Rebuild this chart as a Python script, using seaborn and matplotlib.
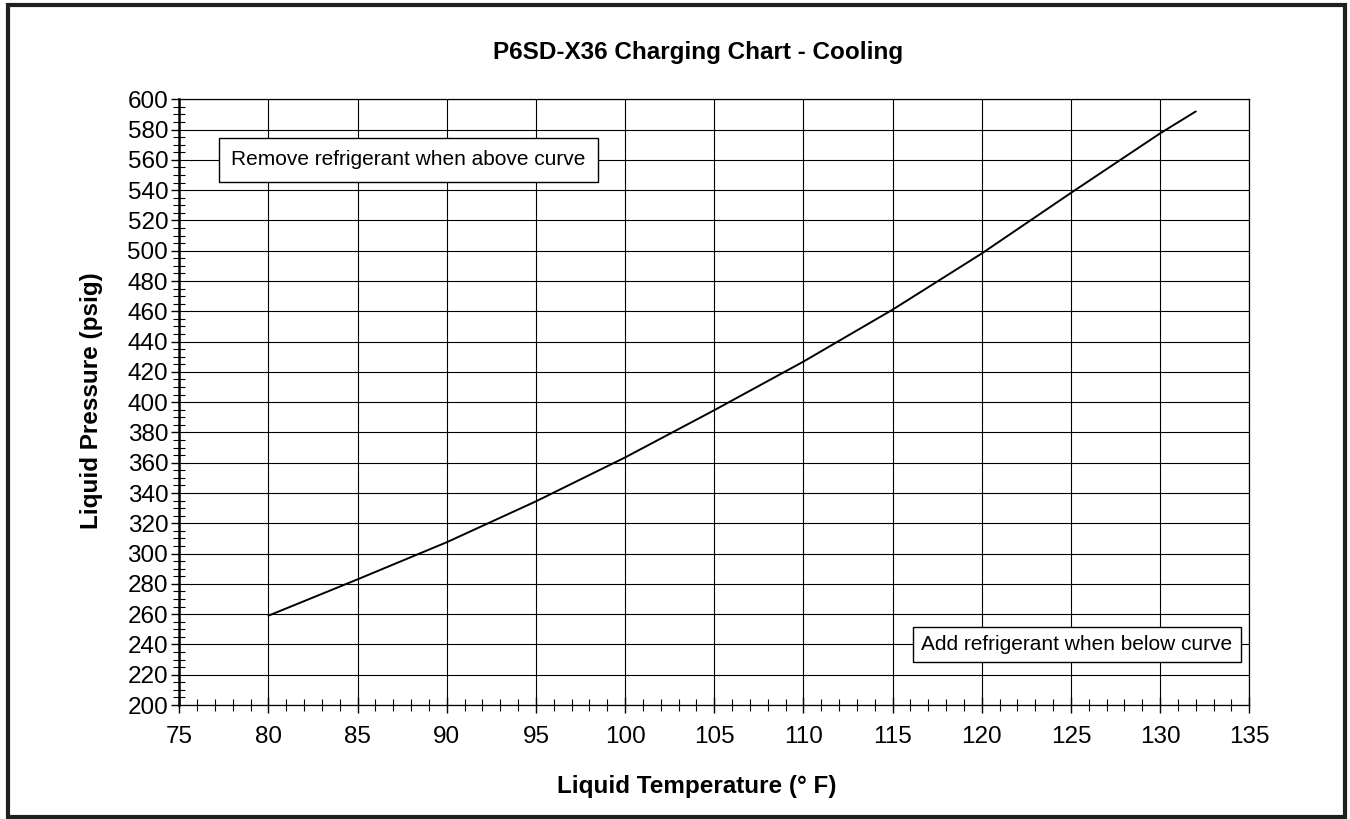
import numpy as np
import pandas as pd
import matplotlib
matplotlib.use("Agg")
import matplotlib.pyplot as plt
from matplotlib.patches import Rectangle
from matplotlib.ticker import MultipleLocator
import seaborn as sns

# values
temps = [80, 85, 90, 95, 100, 105, 110, 115, 120, 125, 130, 132]
pressures = [259, 283, 307.5, 334.5, 363.5, 394.7, 426.8, 461.1, 498.2, 538.2, 577.5, 592]

title = "P6SD-X36 Charging Chart - Cooling"
x_label = "Liquid Temperature (° F)"
y_label = "Liquid Pressure (psig)"
note_above = "Remove refrigerant when above curve"
note_below = "Add refrigerant when below curve"

sns.set_style("ticks")
plt.rcParams["font.family"] = ["Liberation Sans", "DejaVu Sans"]
plt.rcParams["text.color"] = "black"
plt.rcParams["axes.labelcolor"] = "black"
plt.rcParams["xtick.color"] = "black"
plt.rcParams["ytick.color"] = "black"

df = pd.DataFrame({"temp": temps, "pressure": pressures})

fig = plt.figure(figsize=(13.5, 8.19), dpi=100)
ax = fig.add_axes([179.3 / 1350, 1 - 705 / 819, 1070 / 1350, 605.7 / 819])

sns.lineplot(data=df, x="temp", y="pressure", color="black", linewidth=1.4, ax=ax, zorder=3)

ax.set_xlim(75, 135)
ax.set_ylim(200, 600)
ax.xaxis.set_major_locator(MultipleLocator(5))
ax.xaxis.set_minor_locator(MultipleLocator(1))
ax.yaxis.set_major_locator(MultipleLocator(20))
ax.yaxis.set_minor_locator(MultipleLocator(5))

ax.grid(True, which="major", color="black", linewidth=0.8)
ax.set_axisbelow(True)

ax.tick_params(axis="x", which="major", direction="inout", length=12, width=1,
               labelsize=17.5, pad=9)
ax.tick_params(axis="x", which="minor", direction="inout", length=9, width=0.8)
ax.tick_params(axis="y", which="major", direction="out", length=6, width=1,
               labelsize=17.5, pad=2)
ax.tick_params(axis="y", which="minor", direction="inout", length=9, width=0.8)

for side in ["top", "right", "bottom"]:
    ax.spines[side].set_linewidth(0.9)
    ax.spines[side].set_color("black")
ax.spines["left"].set_linewidth(1.8)
ax.spines["left"].set_color("black")

ax.set_xlabel(x_label, fontsize=17.5, fontweight="bold")
ax.set_ylabel(y_label, fontsize=17.5, fontweight="bold")
ax.xaxis.set_label_coords((697 - 179.3) / 1070, (705 - 775) / 605.7)
ax.yaxis.set_label_coords((103 - 179.3) / 1070, 0.502)

fig.text(698 / 1350, 1 - 52 / 819, title, ha="center", va="center",
         fontsize=17.5, fontweight="bold")

box_above = dict(boxstyle="square,pad=0.6", facecolor="white", edgecolor="black", linewidth=1)
box_below = dict(boxstyle="square,pad=0.4", facecolor="white", edgecolor="black", linewidth=1)
ax.text(77.9, 560, note_above, ha="left", va="center", fontsize=15,
        bbox=box_above, zorder=4)
ax.text(134.05, 240, note_below, ha="right", va="center", fontsize=15,
        bbox=box_below, zorder=4)

# thick frame around the whole figure
fig.patches.append(Rectangle((8 / 1350, 2.5 / 819), 1337 / 1350, 811.5 / 819,
                             transform=fig.transFigure, fill=False,
                             edgecolor="#231f20", linewidth=3))

fig.savefig("out.png", dpi=100)
